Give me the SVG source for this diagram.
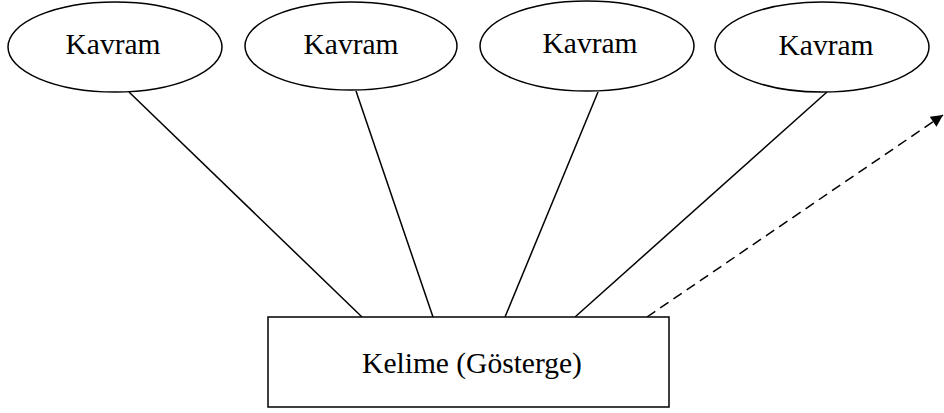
<svg xmlns="http://www.w3.org/2000/svg" width="944" height="413" viewBox="0 0 944 413">
<style>
.n{fill:#fff;stroke:#000;stroke-width:1.5}
.t{font-family:"Liberation Serif","Times New Roman",serif;font-size:29.5px;fill:#000;text-anchor:middle}
.c{stroke:#000;stroke-width:1.5;fill:none}
.d{stroke:#000;stroke-width:1.5;fill:none;stroke-dasharray:10 6}
</style>
<defs>
<marker id="ah" viewBox="0 0 10 10" refX="10" refY="5" markerWidth="15" markerHeight="12" markerUnits="userSpaceOnUse" orient="auto">
<path d="M0,0 L10,5 L0,10 z" fill="#000"/>
</marker>
</defs>
<g id="connectors">
<line class="c" x1="129" y1="92" x2="362" y2="317"/>
<line class="c" x1="356" y1="91" x2="433" y2="317"/>
<line class="c" x1="598" y1="92" x2="505" y2="317"/>
<line class="c" x1="827" y1="92" x2="575" y2="317"/>
<line class="d" x1="647" y1="317" x2="943" y2="115" marker-end="url(#ah)"/>
</g>
<g id="kavram1"><ellipse class="n" cx="115" cy="47" rx="107" ry="45"/><text class="t" x="113" y="54">Kavram</text></g>
<g id="kavram2"><ellipse class="n" cx="351" cy="46" rx="106" ry="44"/><text class="t" x="351" y="54">Kavram</text></g>
<g id="kavram3"><ellipse class="n" cx="587" cy="46" rx="107" ry="45"/><text class="t" x="590" y="53">Kavram</text></g>
<g id="kavram4"><ellipse class="n" cx="822" cy="47" rx="107" ry="45"/><text class="t" x="826" y="55">Kavram</text></g>
<g id="kelime"><rect class="n" x="268" y="317" width="401" height="90"/><text class="t" x="472" y="373">Kelime (Gösterge)</text></g>
</svg>
